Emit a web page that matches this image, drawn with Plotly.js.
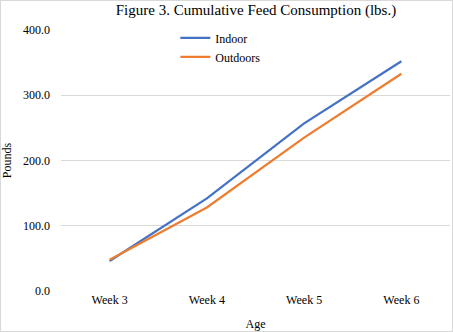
<!DOCTYPE html>
<html><head><meta charset="utf-8">
<script src="https://cdn.plot.ly/plotly-3.0.1.min.js"></script>
<style>
html,body{margin:0;padding:0;background:#fff;}
#wrap{position:relative;width:453px;height:332px;}
#chart{width:453px;height:332px;}
#border{position:absolute;left:0;top:0;width:451px;height:330px;border:1px solid #d9d9d9;pointer-events:none;}
</style>
</head><body>
<div id="wrap"><div id="chart"></div><div id="border"></div></div>
<script>
const categories = ["Week 3", "Week 4", "Week 5", "Week 6"];
const indoor = [46, 142, 257, 352];
const outdoors = [48, 128, 235, 333];
const yTicks = [0, 100, 200, 300, 400];
const yTickLabels = ["0.0", "100.0", "200.0", "300.0", "400.0"];

const FAM = "Times New Roman, Liberation Serif, serif";
function f(size) { return {family: FAM, size: size, color: "#000"}; }
const traces = [
  {x: categories, y: indoor, name: "Indoor", type: "scatter", mode: "lines",
   line: {color: "#4472C4", width: 2.25}},
  {x: categories, y: outdoors, name: "Outdoors", type: "scatter", mode: "lines",
   line: {color: "#ED7D31", width: 2.25}}
];
const layout = {
  width: 453, height: 332,
  margin: {l: 61, r: 3, t: 30, b: 41},
  paper_bgcolor: "#fff", plot_bgcolor: "#fff",
  font: f(12),
  title: {text: "Figure 3. Cumulative Feed Consumption (lbs.)", font: f(15),
          x: 0.565, xanchor: "center", y: 0.972, yanchor: "middle"},
  showlegend: true,
  legend: {x: 0.294, xanchor: "left", y: 1.025, yanchor: "top", bgcolor: "rgba(0,0,0,0)",
           font: f(12), itemwidth: 30, tracegroupgap: 0},
  xaxis: {type: "category", range: [-0.5, 3.5], showgrid: false, zeroline: false,
          showline: false, ticks: "", tickfont: f(12),
          title: {text: "Age", font: f(12), standoff: 13}},
  yaxis: {range: [0, 400], tickvals: yTicks, ticktext: yTickLabels, showgrid: true,
          gridcolor: "#d9d9d9", gridwidth: 1, zeroline: false, showline: false, ticks: "",
          ticklabelstandoff: 10, tickfont: f(12),
          title: {text: "Pounds", font: f(12), standoff: 14}}
};
Plotly.newPlot("chart", traces, layout, {displayModeBar: false, staticPlot: true});
</script>
</body></html>
